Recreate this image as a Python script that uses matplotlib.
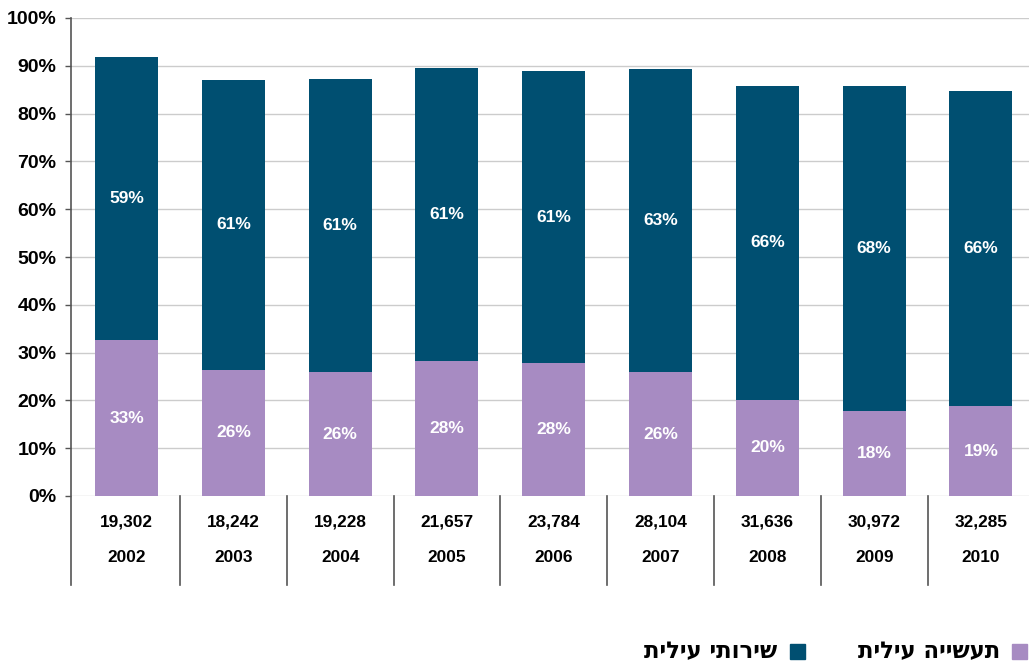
import matplotlib
matplotlib.use("Agg")
import matplotlib.pyplot as plt
from matplotlib.patches import Rectangle
import numpy as np

plt.rcParams['font.family'] = ['Liberation Sans', 'DejaVu Sans']
plt.rcParams['font.weight'] = 'bold'

years = ['2002', '2003', '2004', '2005', '2006', '2007', '2008', '2009', '2010']
totals = ['19,302', '18,242', '19,228', '21,657', '23,784', '28,104', '31,636', '30,972', '32,285']
industry = [32.6, 26.4, 25.9, 28.2, 27.8, 25.9, 20.1, 17.8, 18.8]
services = [59.2, 60.6, 61.4, 61.4, 61.1, 63.4, 65.7, 68.0, 65.9]
label_industry = 'תעשייה עילית'
label_services = 'שירותי עילית'

c_purple = '#A78BC2'
c_blue = '#004F71'

def rtl(s):
    return s[::-1]

fig = plt.figure(figsize=(10.29, 6.62), dpi=100)
ax = fig.add_axes([71/1029, 1-496/662, 1-71/1029, (496-18)/662])

x = np.arange(len(years))
ax.bar(x, industry, width=0.59, color=c_purple, zorder=3)
ax.bar(x, services, width=0.59, bottom=industry, color=c_blue, zorder=3)

for i in range(len(years)):
    ax.text(x[i], industry[i]/2, f"{industry[i]:.0f}%", ha='center', va='center',
            color='white', fontsize=12.5, fontweight='bold', zorder=4)
    ax.text(x[i], industry[i] + services[i]/2, f"{services[i]:.0f}%", ha='center', va='center',
            color='white', fontsize=12.5, fontweight='bold', zorder=4)

ax.set_xlim(-0.52, 8.45)
ax.set_ylim(0, 100)
ax.set_yticks(np.arange(0, 101, 10))
ax.set_yticklabels([f"{v}%" for v in range(0, 101, 10)], fontsize=14, fontweight='bold')
ax.tick_params(axis='y', length=4.5, width=1, color='#555555', pad=6)
ax.set_xticks([])
ax.yaxis.grid(True, color='#CCCCCC', linewidth=1, zorder=0)
for s in ['top', 'right', 'bottom', 'left']:
    ax.spines[s].set_visible(False)

trans = ax.get_xaxis_transform()
ybot = -89/478
ax.plot([0, 0], [1, ybot], transform=ax.transAxes, color='#555555', lw=1.2, clip_on=False, zorder=5)
for i in range(len(years) - 1):
    ax.plot([i + 0.5, i + 0.5], [0, ybot], transform=trans, color='#555555', lw=1.2, clip_on=False)

for i in range(len(years)):
    ax.text(x[i], -26/478, totals[i], transform=trans, ha='center', va='center',
            fontsize=12.4, fontweight='bold')
    ax.text(x[i], -61/478, years[i], transform=trans, ha='center', va='center',
            fontsize=12.4, fontweight='bold')

# Legend (RTL)
ly = 1 - 652/662
sq = 15
fig.patches.append(Rectangle((1012/1029, 1-659/662), sq/1029, sq/662, transform=fig.transFigure,
                             color=c_purple, figure=fig))
fig.text(1000/1029, ly, rtl(label_industry), ha='right', va='center', fontsize=16.4,
         fontweight='bold', family=['DejaVu Sans'])
fig.patches.append(Rectangle((790/1029, 1-659/662), sq/1029, sq/662, transform=fig.transFigure,
                             color=c_blue, figure=fig))
fig.text(777/1029, ly, rtl(label_services), ha='right', va='center', fontsize=16.4,
         fontweight='bold', family=['DejaVu Sans'])

fig.savefig('out.png', dpi=100)
